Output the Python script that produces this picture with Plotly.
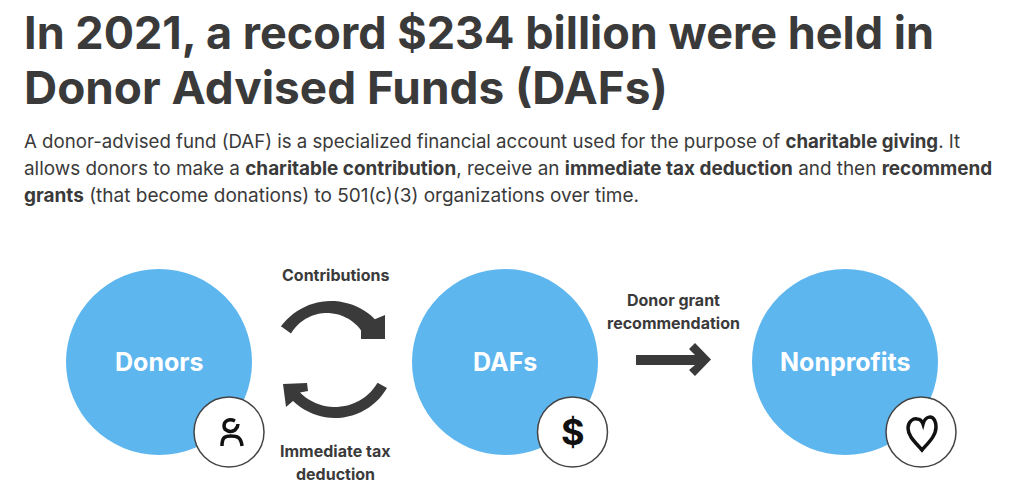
import math
import plotly.graph_objects as go

# Text content
title_lines = ["In 2021, a record $234 billion were held in", "Donor Advised Funds (DAFs)"]
title_sizes = [45, 45.9]
body_lines = [
    "A donor-advised fund (DAF) is a specialized financial account used for the purpose of <b>charitable giving</b>. It",
    "allows donors to make a <b>charitable contribution</b>, receive an <b>immediate tax deduction</b> and then <b>recommend</b>",
    "<b>grants</b> (that become donations) to 501(c)(3) organizations over time.",
]
body_sizes = [18.65, 18.9, 19]
node_labels = ["Donors", "DAFs", "Nonprofits"]
flow_labels = ["Contributions", "Immediate tax", "deduction", "Donor grant", "recommendation"]

# Diagram geometry, in picture pixels
node_x = [159, 505, 845]
node_y = [362, 362, 362]
node_r = 93
badge_x = [229, 572.5, 921]
badge_y = [432, 432, 432]
badge_r = 35
flow_x = [335, 335, 335, 673, 673]
flow_y = [275, 451, 474, 300, 323]

DARK = "#3a3a3a"
BLUE = "#5eb6ef"
FONT = "Inter"


def arc(cx, cy, r, start, end, steps=24):
    # points along a circle, angles in degrees with y pointing down
    pts = []
    for i in range(steps + 1):
        a = math.radians(start + (end - start) * i / steps)
        pts.append(f"L {cx + r * math.cos(a):.1f} {cy + r * math.sin(a):.1f}")
    return " ".join(pts)


arc_top = ("M 282 327 " + arc(331, 363, 62, -144, -45)
           + " L 385 315 L 385 339 L 361 339 L 361 331 "
           + arc(327, 355, 42, -35, -149) + " Z")
arc_bottom = ("M 293 401 " + arc(335, 358, 60, 134, 30)
              + " L 378 383 " + arc(335, 357.5, 49.5, 31, 135)
              + " L 308 391 L 307 383 L 283 384 L 286 407 Z")
arrow = ("M 636 355 L 695 355 L 689 349 L 695 343 L 711 359.5 L 695 376 L 689 370 "
         "L 695 365 L 636 365 Z")
person_head = "M 235 421 C 229 418 224 421 224 426 C 224 431 231 433 235 430 C 237 428 238 427 238 424"
person_body = "M 222 446 C 222 437 225 436 231 436 C 237 436 241 437 242 446"
heart = ("M 922 450 C 915 442 908 436 908 428 C 908 421 914 418 917 419 C 920 419 922 421 923 424 "
         "C 924 420 927 417 930 417 C 934 417 936 422 936 427 C 936 436 928 443 922 450 Z")

fig = go.Figure()

shapes = []
for x, y in zip(node_x, node_y):
    shapes.append(dict(type="circle", x0=x - node_r, x1=x + node_r, y0=y - node_r, y1=y + node_r,
                       fillcolor=BLUE, line=dict(width=0)))
for x, y in zip(badge_x, badge_y):
    shapes.append(dict(type="circle", x0=x - badge_r, x1=x + badge_r, y0=y - badge_r, y1=y + badge_r,
                       fillcolor="white", line=dict(color="#444444", width=1.5)))
for p in [arc_top, arc_bottom, arrow]:
    shapes.append(dict(type="path", path=p, fillcolor=DARK, line=dict(width=0)))
for p in [person_head, person_body, heart]:
    shapes.append(dict(type="path", path=p, line=dict(color="#111111", width=3.5)))

notes = []
for i, line in enumerate(title_lines):
    notes.append(dict(x=22, y=32 + i * 55, text="<b>" + line + "</b>", xanchor="left", yanchor="middle",
                      showarrow=False, font=dict(family=FONT, size=title_sizes[i], color=DARK)))
for i, line in enumerate(body_lines):
    notes.append(dict(x=22, y=141 + i * 27, text=line, xanchor="left", yanchor="middle",
                      showarrow=False, font=dict(family=FONT, size=body_sizes[i], color=DARK)))
for label, x, y in zip(node_labels, node_x, node_y):
    notes.append(dict(x=x, y=y, text="<b>" + label + "</b>", xanchor="center", yanchor="middle",
                      showarrow=False, font=dict(family=FONT, size=25, color="white")))
for label, x, y in zip(flow_labels, flow_x, flow_y):
    notes.append(dict(x=x, y=y, text="<b>" + label + "</b>", xanchor="center", yanchor="middle",
                      showarrow=False, font=dict(family=FONT, size=16, color=DARK)))
notes.append(dict(x=572.5, y=432, text="<b>$</b>", xanchor="center", yanchor="middle", showarrow=False,
                  font=dict(family="Inter", size=36, color="#111111")))

fig.update_layout(
    width=1024, height=503,
    margin=dict(l=0, r=0, t=0, b=0),
    paper_bgcolor="white", plot_bgcolor="white",
    showlegend=False,
    xaxis=dict(range=[0, 1024], visible=False, fixedrange=True),
    yaxis=dict(range=[503, 0], visible=False, fixedrange=True),
    shapes=shapes,
    annotations=notes,
)

fig.write_html("out.html", config=dict(displayModeBar=False), post_script="document.body.style.margin = '0';")
